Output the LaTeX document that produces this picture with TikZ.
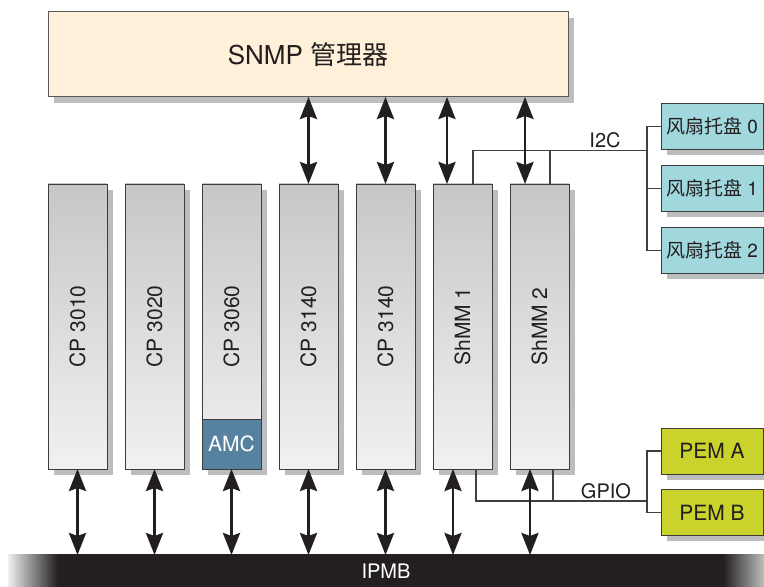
\documentclass[tikz,border=0pt]{standalone}
\usepackage{fontspec}
\setmainfont{TeX Gyre Heros}
\newfontfamily\cjk{Noto Sans CJK SC}
\usetikzlibrary{arrows.meta,positioning,shadows}
\definecolor{snmpfill}{HTML}{FEF0D9}
\definecolor{fanfill}{HTML}{A0D8DE}
\definecolor{pemfill}{HTML}{C9D32B}
\definecolor{amcfill}{HTML}{57829F}
\definecolor{inkblack}{HTML}{231F20}
\definecolor{edgegray}{HTML}{3C3C3C}
\definecolor{shadowgray}{HTML}{BCBDBF}
\definecolor{boardtop}{HTML}{C6C7C9}
\definecolor{boardbot}{HTML}{F1F1F2}
\pgfdeclarehorizontalshading{ipmbfade}{100bp}{color(0bp)=(black!6); color(25bp)=(black!6); color(28.3bp)=(inkblack); color(72.3bp)=(inkblack); color(75bp)=(black!25); color(100bp)=(black!25)}
\tikzset{
  boxshadow/.style={general shadow={fill=shadowgray, shadow xshift=6pt, shadow yshift=-6pt}},
  mgrbox/.style={
    rectangle, draw=black!65, line width=1pt, fill=snmpfill,
    minimum width=520pt, minimum height=85pt, inner sep=0pt, outer sep=0pt,
    boxshadow, font=\fontsize{26}{31}\selectfont, text=inkblack
  },
  board/.style={
    rectangle, draw=edgegray, line width=0.9pt,
    top color=boardtop, bottom color=boardbot,
    minimum width=59pt, minimum height=285pt, inner sep=0pt, outer sep=0pt,
    boxshadow, font=\fontsize{21}{25}\selectfont, text=inkblack
  },
  amcbox/.style={
    rectangle, draw=edgegray, line width=0.9pt, fill=amcfill,
    minimum width=59pt, minimum height=50pt, inner sep=0pt, outer sep=0pt,
    font=\fontsize{21}{25}\selectfont, text=white
  },
  sidebox/.style={
    rectangle, draw=edgegray, line width=0.9pt, fill=#1,
    minimum width=102pt, minimum height=46pt, inner sep=0pt, outer sep=0pt,
    boxshadow, font=\fontsize{20}{24}\selectfont, text=inkblack
  },
  ipmbbar/.style={
    rectangle, shade, shading=ipmbfade,
    minimum width=756pt, minimum height=32pt, inner sep=0pt, outer sep=0pt,
    font=\fontsize{20}{24}\selectfont, text=white
  },
  bus/.style={draw=black!75, line width=1.1pt},
  buslabel/.style={inner sep=2pt, font=\fontsize{20}{24}\selectfont, text=inkblack},
  dblarrow/.style={
    {Stealth[length=22pt,width=17pt,inset=3pt]}-{Stealth[length=22pt,width=17pt,inset=3pt]},
    line width=2.8pt, draw=inkblack
  }
}
\begin{document}
\begin{tikzpicture}[x=1pt, y=1pt]
\useasboundingbox (0,0) rectangle (764,587);
% manager
\node[mgrbox] (snmp) at (308,532.5) {SNMP {\cjk 管理器}};
% boards in the shelf
\node[board] (cp3010) at (77.5,260.5) {\rotatebox{90}{CP 3010}};
\node[board, right=18pt of cp3010] (cp3020) {\rotatebox{90}{CP 3020}};
\node[board, right=18pt of cp3020] (cp3060) {\rotatebox{90}{CP 3060}};
\node[amcbox, anchor=south] (amc) at (cp3060.south) {AMC};
\node[board, right=18pt of cp3060] (cp3140a) {\rotatebox{90}{CP 3140}};
\node[board, right=18pt of cp3140a] (cp3140b) {\rotatebox{90}{CP 3140}};
\node[board, right=18pt of cp3140b] (shmm1) {\rotatebox{90}{ShMM 1}};
\node[board, right=18pt of shmm1] (shmm2) {\rotatebox{90}{ShMM 2}};
% fan trays and power modules
\node[sidebox=fanfill, font=\fontsize{19}{23}\selectfont] (fan0) at (712,460.5) {{\cjk 风扇托盘} 0};
\node[sidebox=fanfill, font=\fontsize{19}{23}\selectfont, below=16pt of fan0] (fan1) {{\cjk 风扇托盘} 1};
\node[sidebox=fanfill, font=\fontsize{19}{23}\selectfont, below=16pt of fan1] (fan2) {{\cjk 风扇托盘} 2};
\node[sidebox=pemfill, font=\fontsize{21}{25}\selectfont] (pema) at (712,136) {PEM A};
\node[sidebox=pemfill, font=\fontsize{21}{25}\selectfont, below=15.5pt of pema] (pemb) {PEM B};
% bus bar
\node[ipmbbar] (ipmb) at (386,16) {IPMB};

% I2C and GPIO wiring
\coordinate (i2cjoin) at (647,436.5);
\coordinate (gpiojoin) at (647,86);
\coordinate (shmm1i2c) at ([xshift=-19pt]shmm1.north east);
\coordinate (shmm2i2c) at ([xshift=-19pt]shmm2.north east);
\coordinate (shmm1gpio) at ([xshift=-16pt]shmm1.south east);
\coordinate (shmm2gpio) at ([xshift=-16pt]shmm2.south east);
\draw[bus] (shmm1i2c) |- (i2cjoin);
\draw[bus] (shmm2i2c) -- (shmm2i2c |- i2cjoin);
\draw[bus] (fan0.west) -- ++(-14pt,0) |- (fan2.west);
\draw[bus] (fan1.west) -- ++(-14pt,0);
\draw[bus] (shmm1gpio) |- (gpiojoin);
\draw[bus] (shmm2gpio) -- (shmm2gpio |- gpiojoin);
\draw[bus] (pema.west) -- ++(-14pt,0) |- (pemb.west);
\node[buslabel, anchor=south] (i2clbl) at (605,436.5) {I2C};
\node[buslabel, anchor=south] (gpiolbl) at (606,86) {GPIO};

% manager links
\coordinate (shmm1up) at ([xshift=14pt]shmm1.north west);
\coordinate (shmm2up) at ([xshift=15pt]shmm2.north west);
\draw[dblarrow] (snmp.south -| cp3140a) -- (cp3140a.north);
\draw[dblarrow] (snmp.south -| cp3140b) -- (cp3140b.north);
\draw[dblarrow] (snmp.south -| shmm1up) -- (shmm1up);
\draw[dblarrow] (snmp.south -| shmm2up) -- (shmm2up);

% IPMB links
\coordinate (shmm1dn) at ([xshift=20pt]shmm1.south west);
\coordinate (shmm2dn) at ([xshift=20pt]shmm2.south west);
\draw[dblarrow] (cp3010.south) -- (cp3010.south |- ipmb.north);
\draw[dblarrow] (cp3020.south) -- (cp3020.south |- ipmb.north);
\draw[dblarrow] (amc.south) -- (amc.south |- ipmb.north);
\draw[dblarrow] (cp3140a.south) -- (cp3140a.south |- ipmb.north);
\draw[dblarrow] (cp3140b.south) -- (cp3140b.south |- ipmb.north);
\draw[dblarrow] (shmm1dn) -- (shmm1dn |- ipmb.north);
\draw[dblarrow] (shmm2dn) -- (shmm2dn |- ipmb.north);
\end{tikzpicture}
\end{document}
